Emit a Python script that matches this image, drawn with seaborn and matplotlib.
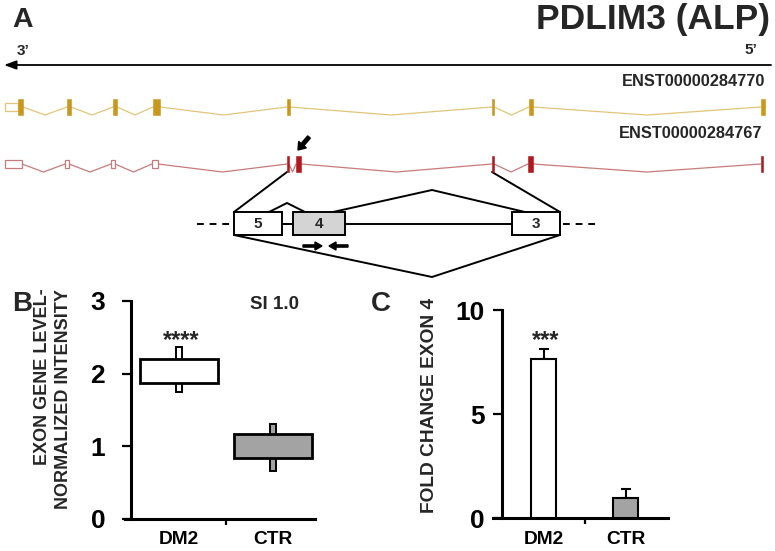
import numpy as np
import pandas as pd
import matplotlib
matplotlib.use("Agg")
import matplotlib.pyplot as plt
import seaborn as sns
from matplotlib.patches import Rectangle

# ---------------- data ----------------
# Panel B (exon gene-level normalized intensity, floating boxes)
b_categories = ["DM2", "CTR"]
b_box_low = [1.87, 0.84]
b_box_high = [2.20, 1.17]
b_whisk_low = [1.75, 0.66]
b_whisk_high = [2.37, 1.31]
b_yticks = [0, 1, 2, 3]
b_annotation = "****"
b_title = "SI 1.0"

# Panel C (fold change exon 4)
c_categories = ["DM2", "CTR"]
c_values = [7.63, 0.95]
c_errors = [0.49, 0.46]
c_yticks = [0, 5, 10]
c_annotation = "***"

# Panel A gene model (positions along the drawn gene axis)
gene_title = "PDLIM3 (ALP)"
tx1_name = "ENST00000284770"
tx1_utr = [(5, 18)]
tx1_exons = [(18, 23), (67, 71), (113, 117), (153, 160), (287, 290),
             (492, 494), (529, 533), (761, 765)]
tx2_name = "ENST00000284767"
tx2_utr = [(5, 22), (65, 69), (111, 115), (152, 158)]
tx2_exons = [(287, 289), (296, 301), (492, 494), (528, 533), (761, 763)]
sch_labels = ["5", "4", "3"]
sch_exons = [(234, 282), (293, 345), (512, 560)]

# ---------------- style ----------------
sns.set_theme(style="white")
plt.rcParams["font.family"] = ["Liberation Sans", "DejaVu Sans"]
plt.rcParams["font.weight"] = "bold"

W, H = 775, 551
fig = plt.figure(figsize=(W / 100, H / 100), dpi=100)
fig.patch.set_facecolor("white")


def px_axes(left, top, right, bottom):
    return fig.add_axes([left / W, 1 - bottom / H, (right - left) / W, (bottom - top) / H])


# ---------------- Panel A (overlay in pixel-like units) ----------------
ax0 = fig.add_axes([0, 0, 1, 1])
ax0.set_xlim(0, W)
ax0.set_ylim(H, 0)
ax0.axis("off")
ax0.patch.set_alpha(0)

GOLD = "#c9971c"
GOLD_L = "#e2c57a"
RED = "#ad1a1f"
RED_L = "#c97a7a"


def draw_tx(utr, exons, yc, h_ex, h_utr, col, col_l, dip):
    feats = sorted([(s, e, "u") for s, e in utr] + [(s, e, "e") for s, e in exons])
    for (s1, e1, _), (s2, e2, _) in zip(feats[:-1], feats[1:]):
        if s2 > e1:
            ax0.plot([e1, (e1 + s2) / 2, s2], [yc, yc + dip, yc], color=col_l, lw=0.9, zorder=2)
    for s, e in utr:
        ax0.add_patch(Rectangle((s, yc - h_utr / 2), e - s, h_utr, facecolor="white",
                                edgecolor=col_l, lw=0.9, zorder=3))
    for s, e in exons:
        ax0.add_patch(Rectangle((s, yc - h_ex / 2), e - s, h_ex, facecolor=col,
                                edgecolor=col, lw=0.4, zorder=4))


draw_tx(tx1_utr, tx1_exons, 107, 16, 8, GOLD, GOLD_L, 8)
draw_tx(tx2_utr, tx2_exons, 164, 16, 8, RED, RED_L, 8)

ax0.text(12, 27, "A", fontsize=20.5, fontweight="bold", ha="left", va="baseline")
ax0.text(770, 29, gene_title, fontsize=25.5, fontweight="bold", ha="right", va="baseline")
ax0.text(17, 55, "3\u2019", fontsize=11, fontweight="bold", ha="left", va="baseline")
ax0.text(757, 54, "5\u2019", fontsize=11, fontweight="bold", ha="right", va="baseline")
ax0.annotate("", xy=(4, 65), xytext=(771, 65),
             arrowprops=dict(arrowstyle="-|>,head_length=0.6,head_width=0.22", lw=1.3,
                             color="black", shrinkA=0, shrinkB=0))
ax0.text(765, 86, tx1_name, fontsize=11.8, fontweight="bold", ha="right", va="baseline")
ax0.text(762, 138, tx2_name, fontsize=11.8, fontweight="bold", ha="right", va="baseline")

# pointer arrow
ax0.arrow(309, 137, -11, 13, width=3.5, head_width=10, head_length=7,
          length_includes_head=True, color="black", zorder=5)

# schematic
LW = 1.4
sy0, sy1 = 212, 235
ym = (sy0 + sy1) / 2
fills = ["white", "#d4d4d4", "white"]
for (s, e), lab, fc in zip(sch_exons, sch_labels, fills):
    ax0.add_patch(Rectangle((s, sy0), e - s, sy1 - sy0, facecolor=fc, edgecolor="black",
                            lw=LW, zorder=4))
    ax0.text((s + e) / 2, ym + 1, lab, fontsize=11, fontweight="bold", ha="center",
             va="center", zorder=5)
ax0.plot([sch_exons[0][1], sch_exons[1][0]], [ym, ym], color="black", lw=LW, zorder=3)
ax0.plot([sch_exons[1][1], sch_exons[2][0]], [ym, ym], color="black", lw=LW, zorder=3)
ax0.plot([197, 231], [ym, ym], color="black", lw=LW, dashes=(3.5, 3))
ax0.plot([563, 595], [ym, ym], color="black", lw=LW, dashes=(3.5, 3))
# zoom lines from transcript 2
ax0.plot([tx2_exons[0][0], sch_exons[0][0]], [172, sy0], color="black", lw=LW)
ax0.plot([tx2_exons[2][0], sch_exons[2][1]], [172, sy0], color="black", lw=LW)
# splice arcs
ax0.plot([269, 287, 305], [sy0, 203, sy0], color="black", lw=LW)
ax0.plot([333, 432, 525], [sy0, 190, sy0], color="black", lw=LW)
ax0.plot([sch_exons[0][0], 432, sch_exons[2][1]], [sy1, 277, sy1], color="black", lw=LW)
# primers
ax0.arrow(303, 246, 19, 0, width=2.2, head_width=8, head_length=7,
          length_includes_head=True, color="black")
ax0.arrow(348, 246, -19, 0, width=2.2, head_width=8, head_length=7,
          length_includes_head=True, color="black")

# panel letters / titles
ax0.text(12, 311, "B", fontsize=20, fontweight="bold", ha="left", va="baseline")
ax0.text(371, 311, "C", fontsize=20, fontweight="bold", ha="left", va="baseline")
ax0.text(274, 309, b_title, fontsize=13.5, fontweight="bold", ha="center", va="baseline")
ax0.text(181, 347, b_annotation, fontsize=17, fontweight="bold", ha="center", va="baseline")
ax0.text(546, 347, c_annotation, fontsize=17, fontweight="bold", ha="center", va="baseline")

# y labels
ax0.text(43, 288, "EXON GENE LEVEL-", rotation=90, fontsize=13, fontweight="bold",
         ha="center", va="top")
ax0.text(63, 289, "NORMALIZED INTENSITY", rotation=90, fontsize=13, fontweight="bold",
         ha="center", va="top")
ax0.text(429, 405, "FOLD CHANGE EXON 4", rotation=90, fontsize=13.8, fontweight="bold",
         ha="center", va="center")

SPINE = 2.2


def style_axes(ax, spine_x, pad):
    ax.patch.set_alpha(0)
    for s in ["top", "right"]:
        ax.spines[s].set_visible(False)
    for s in ["left", "bottom"]:
        ax.spines[s].set_linewidth(SPINE)
        ax.spines[s].set_color("black")
    ax.spines["left"].set_position(("data", spine_x))
    ax.tick_params(axis="y", direction="out", length=6.5, width=1.6, pad=pad,
                   labelsize=19, colors="black", left=True)
    ax.tick_params(axis="x", which="major", length=0, pad=9, labelsize=13.8, colors="black")
    ax.tick_params(axis="x", which="minor", direction="out", length=4, width=1.6,
                   bottom=True, colors="black")
    for t in ax.get_yticklabels() + ax.get_xticklabels():
        t.set_fontweight("bold")


# ---------------- Panel B ----------------
axB = px_axes(125, 301, 315, 519)
xb = np.arange(len(b_categories))
b_fill = ["white", "#a3a3a3"]
whisk_h = np.array(b_whisk_high) - np.array(b_whisk_low)
box_h = np.array(b_box_high) - np.array(b_box_low)
axB.bar(xb, whisk_h, bottom=b_whisk_low, width=0.055, color=b_fill, edgecolor="black",
        linewidth=1.4, zorder=2)
axB.bar(xb, box_h, bottom=b_box_low, width=0.83, color=b_fill, edgecolor="black",
        linewidth=2.0, zorder=3)
axB.set_xlim(-0.574, 1.447)
axB.set_ylim(0, 3)
axB.set_yticks(b_yticks)
axB.set_xticks(xb)
axB.set_xticklabels(b_categories)
axB.set_xticks([0.5], minor=True)
axB.set_xlabel("")
axB.set_ylabel("")
style_axes(axB, -0.511, 12)

# ---------------- Panel C ----------------
axC = px_axes(493, 310, 668, 518)
dfc = pd.DataFrame({"group": c_categories, "value": c_values})
sns.barplot(data=dfc, x="group", y="value", hue="group", palette=["white", "#a3a3a3"],
            edgecolor="black", linewidth=1.5, width=0.305, errorbar=None, legend=False,
            ax=axC, zorder=3)
axC.errorbar(np.arange(len(c_values)), c_values, yerr=[[0] * len(c_errors), c_errors],
             fmt="none", ecolor="black", elinewidth=1.5, capsize=3.5, capthick=1.5, zorder=2)
axC.set_xlim(-0.616, 1.518)
axC.set_ylim(0, 10)
axC.set_yticks(c_yticks)
axC.set_xticks(np.arange(len(c_categories)))
axC.set_xticklabels(c_categories)
axC.set_xticks([0.5], minor=True)
axC.set_xlabel("")
axC.set_ylabel("")
style_axes(axC, -0.506, 6)

fig.savefig("out.png", dpi=100, facecolor="white")
